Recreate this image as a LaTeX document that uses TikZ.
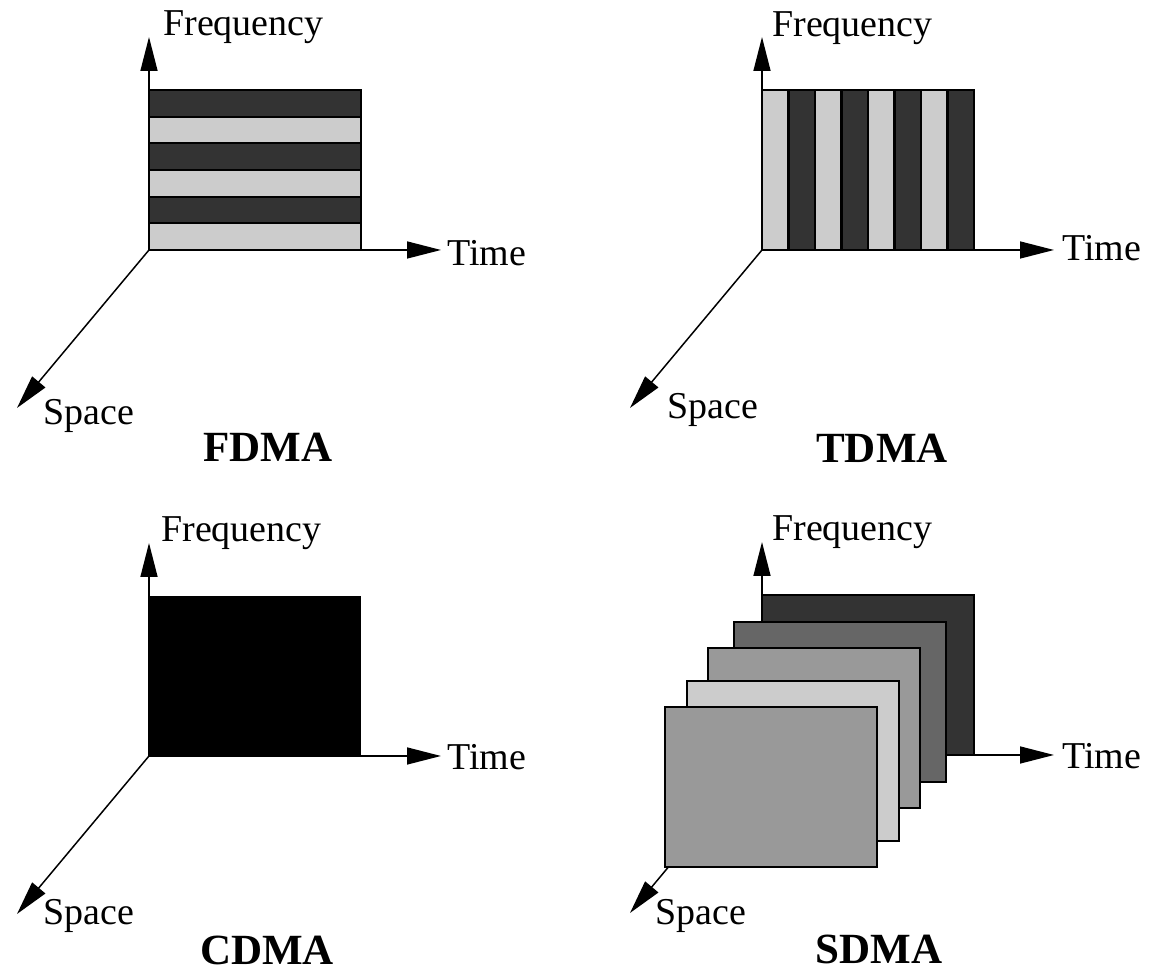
\documentclass[tikz,border=0pt]{standalone}
\usepackage{fontspec}
\setmainfont{Liberation Serif}
\usetikzlibrary{arrows.meta}
\definecolor{darkslot}{gray}{0.2}
\definecolor{midslot}{gray}{0.4}
\definecolor{greyslot}{gray}{0.6}
\definecolor{lightslot}{gray}{0.8}
\begin{document}
\begin{tikzpicture}[x=0.02cm, y=0.02cm, >={Triangle[length=0.68cm, width=0.34cm]},
    axis/.style={->, line width=0.85pt},
    slot/.style={draw, line width=1.2pt},
    lbl/.style={font=\fontsize{21.6}{26}\selectfont, inner sep=0pt, anchor=base west},
    title/.style={font=\fontsize{24.5}{29}\selectfont\bfseries, inner sep=0pt, anchor=base}]
    \useasboundingbox (0,0) rectangle (1157,973);

    % FDMA
    \begin{scope}[shift={(149,723)}]
        \coordinate (fo) at (0,0);
        \coordinate (ff) at (0,213);
        \coordinate (ft) at (292,0);
        \coordinate (fs) at (-132,-158);
        \draw[axis] (fo) -- (ff);
        \draw[axis] (fo) -- (ft);
        \draw[axis] (fo) -- (fs);
        \foreach \i/\col in {0/lightslot,1/darkslot,2/lightslot,3/darkslot,4/lightslot,5/darkslot}
            \filldraw[slot, fill=\col] (0,\i*26.667) rectangle ++(212,26.667);
        \node[lbl] (ffreq) at (14,214) {Frequency};
        \node[lbl] (ftime) at (298,-16) {Time};
        \node[lbl] (fspace) at (-106,-175) {Space};
        \node[title] (fname) at (119,-212) {FDMA};
    \end{scope}

    % TDMA
    \begin{scope}[shift={(762,723)}]
        \coordinate (to) at (0,0);
        \coordinate (tf) at (0,213);
        \coordinate (tt) at (292,0);
        \coordinate (ts) at (-132,-158);
        \draw[axis] (to) -- (tf);
        \draw[axis] (to) -- (tt);
        \draw[axis] (to) -- (ts);
        \foreach \i/\col in {0/lightslot,1/darkslot,2/lightslot,3/darkslot,4/lightslot,5/darkslot,6/lightslot,7/darkslot}
            \filldraw[slot, fill=\col] (\i*26.5,0) rectangle ++(26.5,160);
        \node[lbl] (tfreq) at (10,213) {Frequency};
        \node[lbl] (ttime) at (300,-11) {Time};
        \node[lbl] (tspace) at (-95,-169) {Space};
        \node[title] (tname) at (120,-213) {TDMA};
    \end{scope}

    % CDMA
    \begin{scope}[shift={(149,217)}]
        \coordinate (co) at (0,0);
        \coordinate (cf) at (0,213);
        \coordinate (ct) at (292,0);
        \coordinate (cs) at (-132,-158);
        \draw[axis] (co) -- (cf);
        \draw[axis] (co) -- (ct);
        \draw[axis] (co) -- (cs);
        \fill[black] (0,0) rectangle (212,160);
        \node[lbl] (cfreq) at (12,214) {Frequency};
        \node[lbl] (ctime) at (298,-14) {Time};
        \node[lbl] (cspace) at (-106,-169) {Space};
        \node[title] (cname) at (118,-209) {CDMA};
    \end{scope}

    % SDMA
    \begin{scope}[shift={(762,218)}]
        \coordinate (so) at (0,0);
        \coordinate (sf) at (0,213);
        \coordinate (st) at (292,0);
        \coordinate (ss) at (-132,-158);
        \draw[axis] (so) -- (sf);
        \draw[axis] (so) -- (st);
        \draw[axis] (so) -- (ss);
        \foreach \dx/\dy/\col in {0/0/darkslot,-28/-27/midslot,-54/-53/greyslot,-75/-86/lightslot,-97/-112/greyslot}
            \filldraw[slot, fill=\col] (\dx,\dy) rectangle ++(212,160);
        \node[lbl] (sfreq) at (10,214) {Frequency};
        \node[lbl] (stime) at (300,-14) {Time};
        \node[lbl] (sspace) at (-107,-170) {Space};
        \node[title] (sname) at (117,-209) {SDMA};
    \end{scope}
\end{tikzpicture}
\end{document}
